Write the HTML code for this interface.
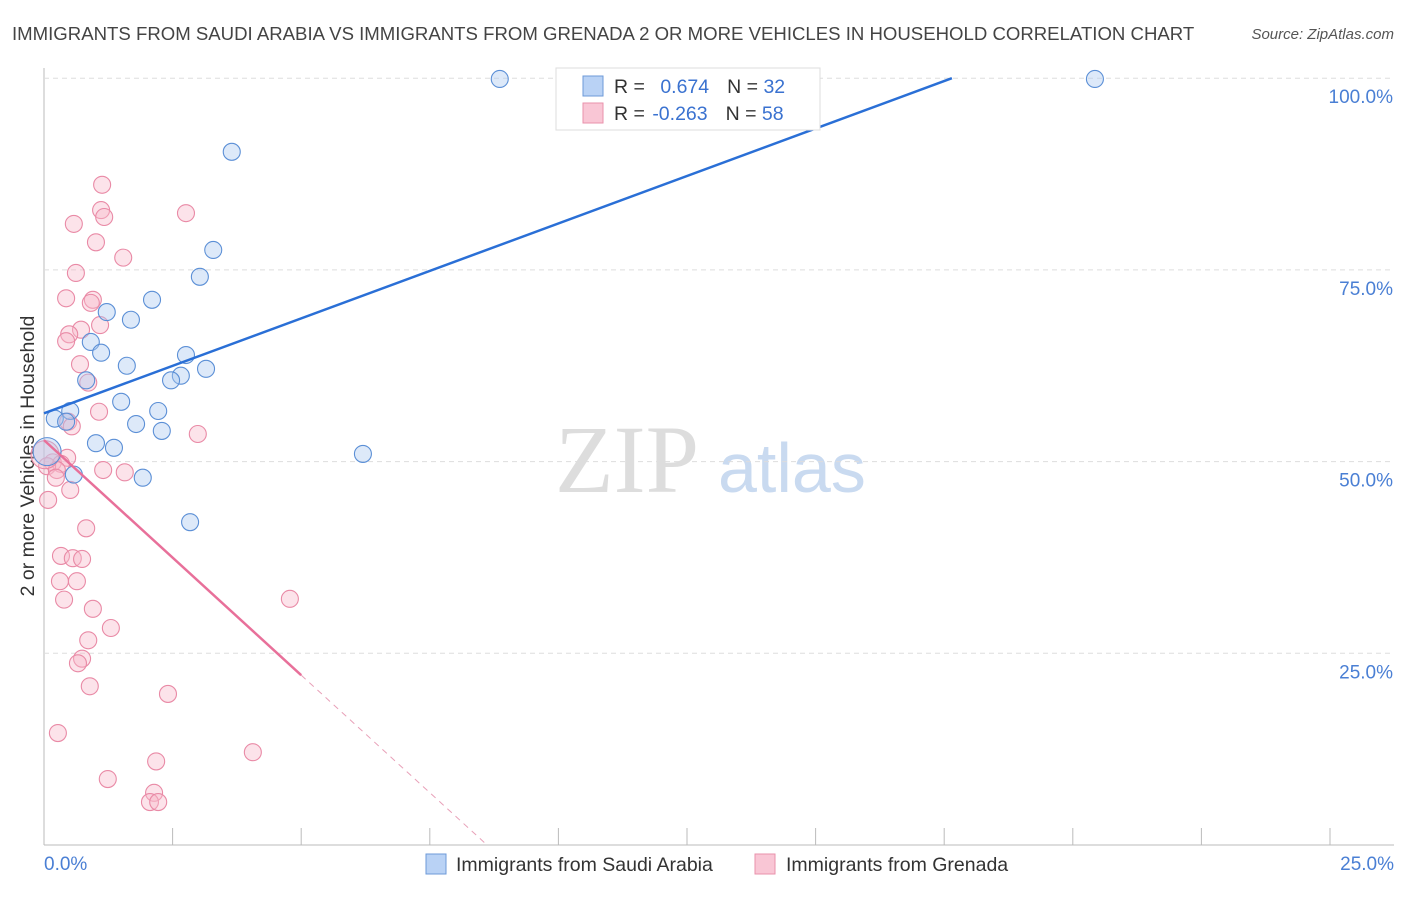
<!DOCTYPE html>
<html><head><meta charset="utf-8"><style>
body{margin:0;background:#fff;font-family:"Liberation Sans",sans-serif;}
</style></head><body>
<svg id="c" width="1406" height="892" xmlns="http://www.w3.org/2000/svg">
<text x="12" y="40" font-size="18.6" fill="#444">IMMIGRANTS FROM SAUDI ARABIA VS IMMIGRANTS FROM GRENADA 2 OR MORE VEHICLES IN HOUSEHOLD CORRELATION CHART</text>
<text x="1394" y="39" font-size="15" fill="#555" font-style="italic" text-anchor="end">Source: ZipAtlas.com</text>
<text x="34" y="456" font-size="19.5" fill="#333" text-anchor="middle" transform="rotate(-90 34 456)">2 or more Vehicles in Household</text>
<text x="555" y="492" font-size="96" fill="#ddd" font-family="Liberation Serif,serif">ZIP</text>
<text x="718" y="492" font-size="70" fill="#c9daf0">atlas</text>
<g id="grid"></g><g id="marks"></g><g id="lines"></g>
<g>
<rect x="556" y="68" width="264" height="62" fill="#fff" stroke="#ddd"/>
<rect x="583" y="76" width="20" height="20" fill="#b9d2f5" stroke="#6d9ad8"/>
<rect x="583" y="103" width="20" height="20" fill="#f9c6d5" stroke="#e991ab"/>
<text x="614" y="93" font-size="19.5" fill="#333">R = <tspan fill="#3a72d0" dx="10">0.674</tspan><tspan dx="18" fill="#333">N = </tspan><tspan fill="#3a72d0">32</tspan></text>
<text x="614" y="120" font-size="19.5" fill="#333">R = <tspan fill="#3a72d0" dx="2">-0.263</tspan><tspan dx="18" fill="#333">N = </tspan><tspan fill="#3a72d0">58</tspan></text>
</g>
<g>
<rect x="426" y="854" width="20" height="20" fill="#b9d2f5" stroke="#6d9ad8"/>
<text x="456" y="871" font-size="19.5" fill="#333">Immigrants from Saudi Arabia</text>
<rect x="755" y="854" width="20" height="20" fill="#f9c6d5" stroke="#e991ab"/>
<text x="786" y="871" font-size="19.5" fill="#333">Immigrants from Grenada</text>
</g>
</svg>
<script>
const xTicks=[0,2.5,5,7.5,10,12.5,15,17.5,20,22.5,25];
const yTicks=[25,50,75,100];
const yTickLabels=["25.0%","50.0%","75.0%","100.0%"];
const xEndLabels=["0.0%","25.0%"];
const blueX=[8.86,20.43,3.65,3.29,3.03,2.10,1.22,1.69,0.91,1.11,2.76,1.61,3.15,2.66,2.47,0.82,1.50,2.22,0.51,0.21,0.43,1.79,2.29,1.01,1.36,6.20,1.92,0.58,2.84,0.06];
const blueY=[99.9,99.9,90.4,77.6,74.1,71.1,69.5,68.5,65.6,64.2,63.9,62.5,62.1,61.2,60.6,60.6,57.8,56.6,56.6,55.6,55.2,54.9,54.0,52.4,51.8,51.0,47.9,48.3,42.1,51.3];
const pinkX=[1.13,1.11,2.76,1.17,0.58,1.01,1.54,0.62,0.43,0.95,0.91,1.09,0.72,0.49,0.43,0.70,0.86,1.07,0.47,0.54,2.99,0.45,0.17,0.33,0.06,0.25,1.15,1.57,0.23,0.51,0.08,0.82,0.33,0.56,0.74,0.31,0.64,0.39,0.95,4.78,1.30,0.86,0.74,0.66,0.89,2.41,0.27,4.06,2.18,1.24,2.14,2.06,2.22,0.02];
const pinkY=[86.1,82.8,82.4,81.9,81.0,78.6,76.6,74.6,71.3,71.1,70.7,67.8,67.2,66.6,65.7,62.7,60.3,56.5,55.2,54.6,53.6,50.5,49.9,49.7,49.4,48.9,48.9,48.6,47.9,46.3,45.0,41.3,37.7,37.4,37.3,34.4,34.4,32.0,30.8,32.1,28.3,26.7,24.3,23.7,20.7,19.7,14.6,12.1,10.9,8.6,6.8,5.6,5.6,50.9];
const blueTrend=[56.3,2.476];
const pinkTrend=[52.8,-6.13,5.0];
const X=v=>44+v/25*1286, Y=v=>845-v/100*766.8;
const NS="http://www.w3.org/2000/svg";
function mk(p,t,a){const e=document.createElementNS(NS,t);for(const k in a)e.setAttribute(k,a[k]);p.appendChild(e);return e;}
const grid=document.getElementById('grid'),marks=document.getElementById('marks'),lines=document.getElementById('lines');
let ax=mk(grid,'line',{x1:44,y1:68,x2:44,y2:845,stroke:'#bbb'});


let bx=mk(grid,'line',{x1:44,y1:845,x2:1394,y2:845,stroke:'#bbb'});


xTicks.forEach(t=>{const e=mk(grid,'line',{x1:X(t),y1:828,x2:X(t),y2:845,stroke:'#bbb'});

});
yTicks.forEach((t,i)=>{const e=mk(grid,'line',{x1:44,y1:Y(t),x2:1394,y2:Y(t),stroke:'#ddd','stroke-dasharray':'5,4'});


const l=mk(grid,'text',{x:1393,y:Y(t)+25,'font-size':19,fill:'#4a7fd4','text-anchor':'end'});l.textContent=yTickLabels[i];

});
[[0,'start',44],[25,'end',1394]].forEach((d,i)=>{const l=mk(grid,'text',{x:d[2],y:870,'font-size':19,fill:'#4a7fd4','text-anchor':d[1]});l.textContent=xEndLabels[i];

});
pinkX.forEach((v,i)=>{const big=i===pinkX.length-1;const c=mk(marks,'circle',{cx:X(v),cy:Y(pinkY[i]),r:big?14:8.5,fill:'#f7b9cb','fill-opacity':0.4,stroke:'#e98aa6','stroke-width':1.1});

});
blueX.forEach((v,i)=>{const big=i===blueX.length-1;const c=mk(marks,'circle',{cx:X(v),cy:Y(blueY[i]),r:big?14:8.5,fill:'#a9c8f0','fill-opacity':0.4,stroke:'#5b8fd6','stroke-width':1.1});

});
const bEnd=(100-blueTrend[0])/blueTrend[1];
let bl=mk(lines,'line',{x1:X(0),y1:Y(blueTrend[0]),x2:X(bEnd),y2:Y(100),stroke:'#2a6fd6','stroke-width':2.5});


const pz=-pinkTrend[0]/pinkTrend[1];
let pl=mk(lines,'line',{x1:X(0),y1:Y(pinkTrend[0]),x2:X(pinkTrend[2]),y2:Y(pinkTrend[0]+pinkTrend[1]*pinkTrend[2]),stroke:'#e8709a','stroke-width':2.5});


let pd=mk(lines,'line',{x1:X(pinkTrend[2]),y1:Y(pinkTrend[0]+pinkTrend[1]*pinkTrend[2]),x2:X(pz),y2:Y(0),stroke:'#e8a0b8','stroke-width':1,'stroke-dasharray':'6,5'});


</script>
</body></html>
